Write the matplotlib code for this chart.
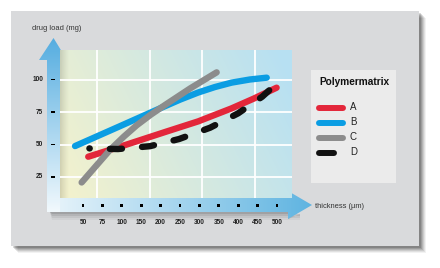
import numpy as np
import matplotlib
matplotlib.use('Agg')
import matplotlib.pyplot as plt
from matplotlib.patches import Polygon, Rectangle
from matplotlib.lines import Line2D
from matplotlib.transforms import blended_transform_factory
from matplotlib.colors import LinearSegmentedColormap

# ---------------- data ----------------
thickness_labels = ['50', '75', '100', '150', '200', '250', '300', '350', '400', '450', '500']
load_ticks = [25, 50, 75, 100]
series_names = ['A', 'B', 'C', 'D']
series_colors = ['#e3263a', '#0a9de3', '#8c8c8c', '#111111']

# x given in tick-position units (0 = "50", 10 = "500")
a_x = [0.27, 2.3, 4.27, 5.94, 7.66, 8.8, 9.98]
a_y = [40.6, 50.2, 59.8, 67.8, 77.8, 85.3, 93.7]
b_x = [-0.41, 1.8, 3.97, 5.0, 5.94, 6.8, 7.66, 8.6, 9.47]
b_y = [48.8, 63.4, 77.8, 84.5, 90.0, 94.2, 97.6, 100.0, 101.4]
c_x = [-0.07, 0.7, 1.39, 2.1, 2.77, 3.5, 4.23, 5.52, 6.89]
c_y = [20.8, 34.0, 45.8, 56.0, 64.8, 73.0, 80.4, 93.1, 105.5]
d_x = [0.33, 1.8, 3.45, 4.95, 6.55, 8.0, 9.24, 9.86]
d_y = [47.0, 46.5, 48.7, 54.2, 62.9, 74.0, 86.8, 95.2]

grid_x = [0.72, 3.45, 6.13, 8.87]

# ---------------- figure ----------------
W, H = 440, 268
fig = plt.figure(figsize=(W / 100, H / 100), dpi=100)
fig.patch.set_facecolor('white')
bg = fig.add_axes([0, 0, 1, 1])
bg.set_xlim(0, W)
bg.set_ylim(H, 0)
bg.axis('off')
bg.set_zorder(0)

# panel shadow
for k, al in [(7, 0.05), (6, 0.07), (5, 0.09), (4, 0.11), (3, 0.13), (2, 0.15)]:
    bg.add_patch(Rectangle((11 + k, 11 + k), 408, 235, facecolor='black', alpha=al, lw=0))
bg.add_patch(Rectangle((11, 11), 408, 235, facecolor='#d9dadc', lw=0))

# x-arrow shadow
for k, al in [(8, 0.04), (6, 0.06), (4, 0.08), (2, 0.10)]:
    bg.add_patch(Polygon([(50, 212), (288, 212), (288, 219), (300, 214), (300, 212 + k),
                          (52, 212 + k)], closed=True, facecolor='black', alpha=al, lw=0))


def grad_patch(poly_pts, c0, c1, direction):
    poly = Polygon(poly_pts, closed=True, facecolor='none', lw=0)
    bg.add_patch(poly)
    xs = [p[0] for p in poly_pts]
    ys = [p[1] for p in poly_pts]
    cmap = LinearSegmentedColormap.from_list('g', [c0, c1])
    g = np.linspace(0, 1, 256)
    if direction == 'h':
        arr = g[None, :]
    else:
        arr = g[:, None][::-1]  # 1 at top
    im = bg.imshow(arr, cmap=cmap, extent=(min(xs), max(xs), max(ys), min(ys)),
                   aspect='auto', interpolation='bilinear', zorder=2)
    im.set_clip_path(poly)


# horizontal arrow
grad_patch([(47, 198), (288, 198), (288, 191), (312, 205), (288, 219), (288, 212), (47, 212)],
           '#eaf5fb', '#5fb4e1', 'h')
# vertical arrow
grad_patch([(47, 212), (47, 60), (39, 60), (53.5, 38), (67, 60), (60, 60), (60, 212)],
           '#f2f9fd', '#55ade0', 'v')

# ---------------- plot area ----------------
x0px, x1px, y0px, y1px = 60, 292, 50, 198
ax = fig.add_axes([x0px / W, 1 - y1px / H, (x1px - x0px) / W, (y1px - y0px) / H])
ax.set_zorder(1)
xlo, xhi = (x0px - 83) / 19.4, (x1px - 83) / 19.4
ylo, yhi = (209.5 - y1px) / 1.3, (209.5 - y0px) / 1.3
ax.set_xlim(xlo, xhi)
ax.set_ylim(ylo, yhi)
ax.axis('off')

# background gradient (yellow left-bottom -> blue right-top)
nx, ny = 200, 120
gx = np.linspace(0, 1, nx)[None, :]
gy = np.linspace(0, 1, ny)[:, None]
t = np.clip(0.8 * gx + 0.25 * gy, 0, 1)
c0 = np.array([0.96, 0.95, 0.80])
c1 = np.array([0.72, 0.88, 0.95])
img = c0[None, None, :] * (1 - t[..., None]) + c1[None, None, :] * t[..., None]
ax.imshow(img, extent=(xlo, xhi, ylo, yhi), origin='lower', aspect='auto', zorder=0)
# soft shading cast by the vertical arrow
sh = np.linspace(0.22, 0, 40) ** 1.3
shimg = np.zeros((1, 40, 4))
shimg[0, :, 3] = sh
ax.imshow(shimg, extent=(xlo, xlo + 0.5, ylo, yhi), aspect='auto', zorder=0.5)

for gxv in grid_x:
    ax.axvline(gxv, color='white', lw=1.3, zorder=1)
for yv in load_ticks:
    ax.axhline(yv, color='white', lw=1.3, zorder=1)

lw = 4.6
ax.plot(a_x, a_y, color=series_colors[0], lw=lw, solid_capstyle='round',
        solid_joinstyle='round', zorder=3)
ax.plot(b_x, b_y, color=series_colors[1], lw=lw, solid_capstyle='round',
        solid_joinstyle='round', zorder=3)
ax.plot(c_x, c_y, color=series_colors[2], lw=lw, solid_capstyle='round',
        solid_joinstyle='round', zorder=4)
ax.plot(d_x, d_y, color=series_colors[3], lw=lw, linestyle=(1.85, (1.9, 3.15)),
        dash_capstyle='round', dash_joinstyle='round', zorder=5)

# ---------------- ticks and labels ----------------
tx = blended_transform_factory(ax.transData, bg.transData)
ty = blended_transform_factory(bg.transData, ax.transData)
for i, lab in enumerate(thickness_labels):
    bg.add_patch(Rectangle((i - 0.07, 203.5), 0.14, 3, transform=tx, facecolor='black', lw=0, zorder=5))
    bg.text(i, 223, lab, transform=tx, ha='center', va='center', fontsize=4.7,
            fontweight='bold', family='Liberation Sans', color='#222222', zorder=5)
for yv in load_ticks:
    bg.add_patch(Rectangle((51, yv - 0.6), 4, 1.2, transform=ty, facecolor='black', lw=0, zorder=5))
    bg.text(43, yv, str(yv), transform=ty, ha='right', va='center', fontsize=4.7,
            fontweight='bold', family='Liberation Sans', color='#222222', zorder=5)

bg.text(32, 29, 'drug load (mg)', ha='left', va='center', fontsize=5.4,
        family='Liberation Sans', color='#333333')
bg.text(315, 206, 'thickness (µm)', ha='left', va='center', fontsize=5.4,
        family='Liberation Sans', color='#333333')

# ---------------- legend ----------------
bg.add_patch(Rectangle((311, 70), 85, 113, facecolor='#ebebeb', lw=0, zorder=3))
bg.text(354, 82, 'Polymermatrix', ha='center', va='center', fontsize=7.3,
        fontweight='bold', family='Liberation Sans', color='#111111', zorder=4)
leg_y = [108, 123, 138, 153]
for name, col, yy in zip(series_names, series_colors, leg_y):
    xe = 334 if name == 'D' else 343
    bg.add_line(Line2D([318.5, xe], [yy, yy], color=col, lw=4.3, solid_capstyle='round', zorder=4))
    bg.text(350, yy - 1, name, ha='left', va='center', fontsize=7,
            family='Liberation Sans', color='#222222', zorder=4)

fig.savefig('out.png', dpi=100, facecolor='white')
